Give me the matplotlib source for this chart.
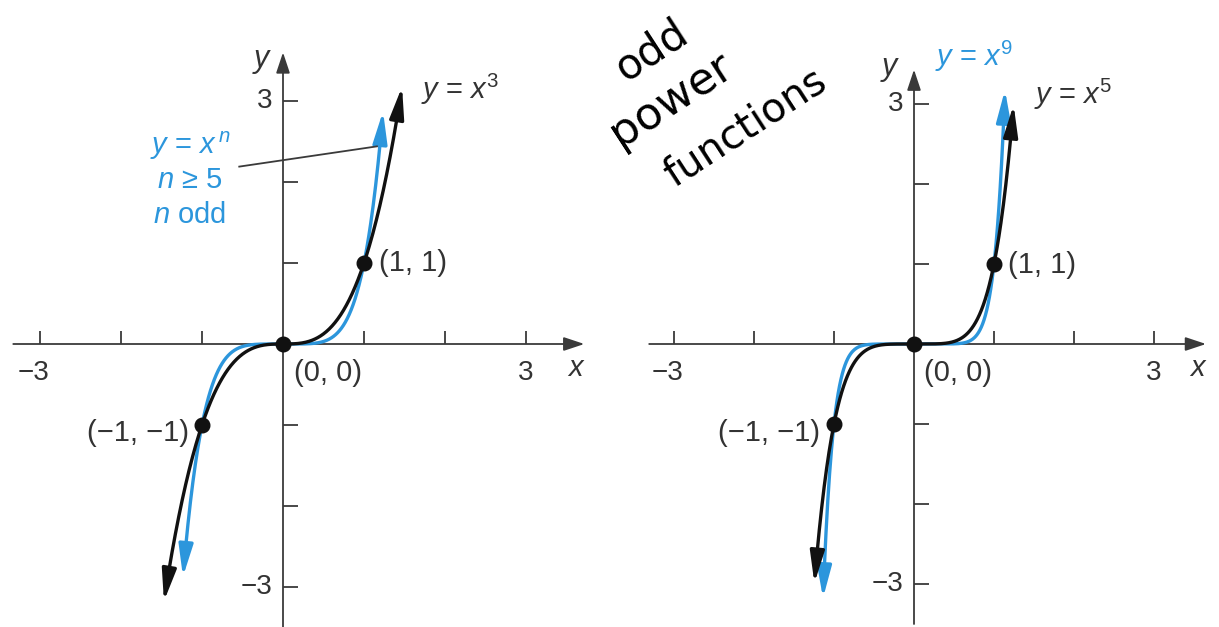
import numpy as np
import matplotlib
matplotlib.use('Agg')
import matplotlib.pyplot as plt
from matplotlib import font_manager

#--fonts
names = {f.name for f in font_manager.fontManager.ttflist}
SANS = 'Liberation Sans' if 'Liberation Sans' in names else 'DejaVu Sans'
plt.rcParams['font.family'] = [SANS, 'DejaVu Sans']
plt.rcParams['mathtext.fontset'] = 'custom'
plt.rcParams['mathtext.rm'] = SANS
plt.rcParams['mathtext.it'] = SANS + ':italic'

W, H = 1219, 627
BLUE = '#2c96dc'
INK = '#111111'
GRAY = '#3a3a3a'
TXT = '#333333'
FS = 21

#--curves: exponent and |x| at the arrow tip
left_black_n, left_black_tip = 3, 1.47
left_blue_n, left_blue_tip = 5, 1.235
right_black_n, right_black_tip = 5, 1.245
right_blue_n, right_blue_tip = 9, 1.137

xticks = [-3, -2, -1, 1, 2, 3]
yticks = [-3, -2, -1, 1, 2, 3]
pts_x = [-1, 0, 1]
pts_y = [-1, 0, 1]
pt_labels = ['(\u22121, \u22121)', '(0, 0)', '(1, 1)']

fig = plt.figure(figsize=(W/100, H/100), dpi=100)
fig.patch.set_facecolor('white')


def make_panel(px0, px1, origin, unit):
    ox, oy = origin
    ax = fig.add_axes([px0/W, 0, (px1-px0)/W, 1])
    ax.set_xlim((px0-ox)/unit, (px1-ox)/unit)
    ax.set_ylim(-(H-oy)/unit, oy/unit)
    ax.axis('off')
    return ax


def draw_axes(ax, unit, xr, yr):
    arr = dict(arrowstyle='-|>,head_length=0.9,head_width=0.3', lw=1.3,
               color=GRAY, mutation_scale=14, shrinkA=0, shrinkB=0)
    ax.annotate('', xy=(xr[1], 0), xytext=(xr[0], 0), arrowprops=arr)
    ax.annotate('', xy=(0, yr[1]), xytext=(0, yr[0]), arrowprops=arr)
    tx = 13/unit
    ty = 15/unit
    for t in xticks:
        ax.plot([t, t], [0, tx], color=GRAY, lw=1.3, solid_capstyle='butt')
    for t in yticks:
        ax.plot([0, ty], [t, t], color=GRAY, lw=1.3, solid_capstyle='butt')
    fs = FS - 1
    ax.text(-3+0.12, -0.36, '\u22123', ha='right', va='center', fontsize=fs, color=TXT)
    ax.text(3, -0.36, '3', ha='center', va='center', fontsize=fs, color=TXT)
    ax.text(-0.13, 3, '3', ha='right', va='center', fontsize=fs, color=TXT)
    ax.text(-0.13, -3, '\u22123', ha='right', va='center', fontsize=fs, color=TXT)
    ax.text(xr[1]-0.1, -0.3, r'$x$', ha='center', va='center', fontsize=FS, color=TXT)


def draw_curve(ax, n, tip, color, unit, z):
    back = 0.35
    for s in (1, -1):
        y_tip = s*tip**n
        y_back = y_tip - s*back
        x_back = s*abs(y_back)**(1.0/n)
        if s == 1:
            xs = np.linspace(-abs(x_back), abs(x_back), 400)
            ax.plot(xs, xs**n, color=color, lw=2.4, zorder=z, solid_capstyle='butt')
        ax.annotate('', xy=(s*tip, y_tip), xytext=(x_back, y_back),
                    arrowprops=dict(arrowstyle='-|>,head_length=1.2,head_width=0.27',
                                    lw=2.4, color=color, mutation_scale=16,
                                    shrinkA=0, shrinkB=0),
                    zorder=z)


def draw_points(ax, lab_pos):
    ax.plot(pts_x, pts_y, 'o', color=INK, ms=10.5, zorder=10)
    for (lx, ly, ha), lab in zip(lab_pos, pt_labels):
        ax.text(lx, ly, lab, ha=ha, va='center', fontsize=FS, color=TXT)


##############################################
#--left panel: y = x^3 vs y = x^n
##############################################
uL = 81.0
axL = make_panel(0, 600, (283, 344), uL)
draw_axes(axL, uL, (-3.33, 3.72), (-3.6, 3.6))
axL.text(-0.25, 3.5, r'$y$', ha='center', va='center', fontsize=FS+1, color=TXT)
draw_curve(axL, left_blue_n, left_blue_tip, BLUE, uL, 4)
draw_curve(axL, left_black_n, left_black_tip, INK, uL, 5)
draw_points(axL, [(-1.16, -1.1, 'right'), (0.13, -0.36, 'left'), (1.18, 1.0, 'left')])
axL.text(1.7, 3.14, r'$y$ = $x^3$', ha='left', va='center', fontsize=FS, color=TXT)
axL.text(-1.15, 2.45, r'$y$ = $x^{\,n}$', ha='center', va='center', fontsize=FS, color=BLUE)
axL.text(-1.15, 2.02, r'$n$ ≥ 5', ha='center', va='center', fontsize=FS, color=BLUE)
axL.text(-1.15, 1.59, r'$n$ odd', ha='center', va='center', fontsize=FS, color=BLUE)
axL.plot([-0.54, 1.16], [2.19, 2.44], color=GRAY, lw=1.3, zorder=6)

##############################################
#--right panel: y = x^5 vs y = x^9
##############################################
uR = 80.0
axR = make_panel(600, W, (914, 344), uR)
draw_axes(axR, uR, (-3.31, 3.65), (-3.5, 3.43))
axR.text(-0.3, 3.44, r'$y$', ha='center', va='center', fontsize=FS+1, color=TXT)
draw_curve(axR, right_blue_n, right_blue_tip, BLUE, uR, 4)
draw_curve(axR, right_black_n, right_black_tip, INK, uR, 5)
draw_points(axR, [(-1.17, -1.11, 'right'), (0.13, -0.36, 'left'), (1.17, 0.99, 'left')])
axR.text(1.5, 3.12, r'$y$ = $x^5$', ha='left', va='center', fontsize=FS, color=TXT)
axR.text(0.26, 3.6, r'$y$ = $x^9$', ha='left', va='center', fontsize=FS, color=BLUE)

#--handwritten note
note = [('odd', 652, 50, 30), ('power', 671, 99, 32), ('functions', 745, 128, 29)]
for word, x, y, fs in note:
    fig.text(x/W, 1-y/H, word, ha='center', va='center', rotation=33,
             fontsize=fs, color='black', family='DejaVu Sans', fontweight='normal')

fig.savefig('out.png', dpi=100, facecolor='white')
